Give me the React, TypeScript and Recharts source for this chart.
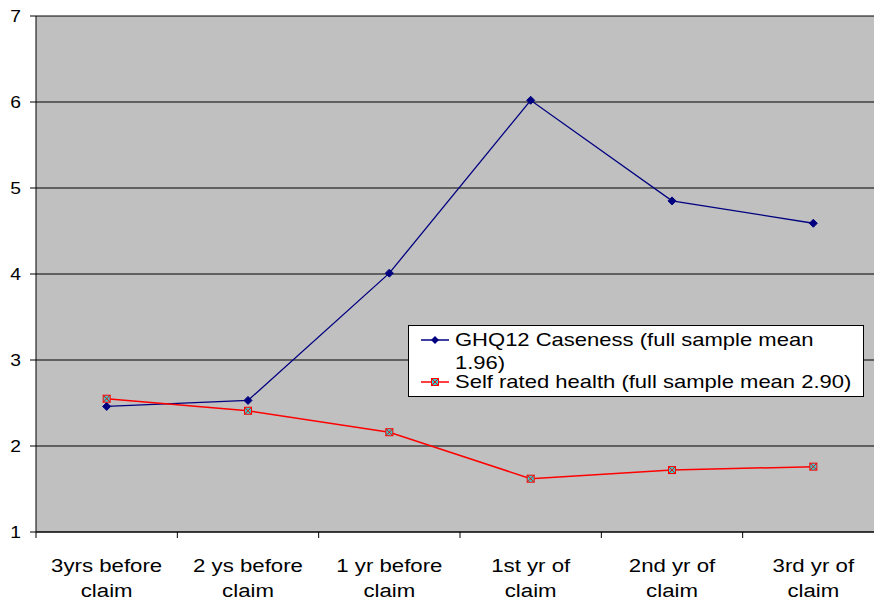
import React from 'react';
import { LineChart, Line, XAxis, YAxis, CartesianGrid, Legend } from 'recharts';

const categories = ['3yrs before|claim', '2 ys before|claim', '1 yr before|claim', '1st yr of|claim', '2nd yr of|claim', '3rd yr of|claim'];
const ghq12 = [2.46, 2.53, 4.01, 6.02, 4.85, 4.59];
const selfRated = [2.55, 2.41, 2.16, 1.62, 1.72, 1.76];
const yTicks = [1, 2, 3, 4, 5, 6, 7];
const legendGhq = ['GHQ12 Caseness (full sample mean', '1.96)'];
const legendSelf = 'Self rated health (full sample mean 2.90)';

const data = categories.map((c, i) => ({ cat: c, ghq: ghq12[i], self: selfRated[i] }));

const CHART_W = 886;
const CHART_H = 608;
const MARGIN = { top: 16, right: 2, left: 0, bottom: 0 };
const Y_W = 36;
const PLOT_W = CHART_W - MARGIN.right - MARGIN.left - Y_W;
const BAND = PLOT_W / categories.length;
const FONT = '"Liberation Sans", Arial, sans-serif';

const SText = ({ x, y, size, anchor, sx, children }: any) => (
  <text
    transform={`translate(${x},${y}) scale(${sx || 1.17},1)`}
    x={0}
    y={0}
    textAnchor={anchor || 'start'}
    fontSize={size}
    fontFamily={FONT}
    fill="#000"
  >
    {children}
  </text>
);

const XTick = (props: any) => {
  const { x, y, payload, index } = props;
  const [l1, l2] = String(payload.value).split('|');
  const left = x - BAND / 2;
  const right = x + BAND / 2;
  return (
    <g>
      <line x1={left} y1={y} x2={left} y2={y + 6} stroke="#000" />
      {index === categories.length - 1 && <line x1={right} y1={y} x2={right} y2={y + 6} stroke="#000" />}
      <SText x={x} y={y + 40} size={19} anchor="middle">{l1}</SText>
      <SText x={x} y={y + 65} size={19} anchor="middle">{l2}</SText>
    </g>
  );
};

const YTick = (props: any) => {
  const { x, y, payload } = props;
  return <SText x={x} y={y + 6} size={16.5} anchor="end">{payload.value}</SText>;
};

const Diamond = (props: any) => {
  const { cx, cy } = props;
  if (cx == null || cy == null) return null;
  const r = 4;
  return <polygon points={`${cx},${cy - r} ${cx + r},${cy} ${cx},${cy + r} ${cx - r},${cy}`} fill="#000080" stroke="#000080" />;
};

const SquareX = (props: any) => {
  const { cx, cy } = props;
  if (cx == null || cy == null) return null;
  const r = 3.5;
  return (
    <g>
      <rect x={cx - r} y={cy - r} width={2 * r} height={2 * r} fill="#33CCCC" stroke="#FF0000" strokeWidth={1} />
      <line x1={cx - r} y1={cy - r} x2={cx + r} y2={cy + r} stroke="#FF0000" strokeWidth={1} />
      <line x1={cx + r} y1={cy - r} x2={cx - r} y2={cy + r} stroke="#FF0000" strokeWidth={1} />
    </g>
  );
};

const LegendBox = () => (
  <svg width={456} height={72} style={{ display: 'block' }}>
    <rect x={0.5} y={0.5} width={455} height={71} fill="#fff" stroke="#000" />
    <line x1={13} y1={15} x2={41} y2={15} stroke="#000080" strokeWidth={1.5} />
    <polygon points="27,11 31,15 27,19 23,15" fill="#000080" />
    <SText x={47} y={21} size={18.5} sx={1.19}>{legendGhq[0]}</SText>
    <SText x={47} y={44} size={18.5} sx={1.19}>{legendGhq[1]}</SText>
    <line x1={13} y1={57} x2={41} y2={57} stroke="#FF0000" strokeWidth={1.5} />
    <rect x={23.5} y={53.5} width={7} height={7} fill="#33CCCC" stroke="#FF0000" />
    <line x1={23.5} y1={53.5} x2={30.5} y2={60.5} stroke="#FF0000" />
    <line x1={30.5} y1={53.5} x2={23.5} y2={60.5} stroke="#FF0000" />
    <SText x={47} y={63} size={18.5} sx={1.19}>{legendSelf}</SText>
  </svg>
);

export default function App() {
  return (
    <div style={{ position: 'absolute', left: 0, top: 0, width: 874, height: 608, overflow: 'hidden', background: '#fff', fontFamily: FONT }}>
      <LineChart width={CHART_W} height={CHART_H} data={data} margin={MARGIN}>
        <CartesianGrid horizontal vertical={false} stroke="#000" fill="#C0C0C0" fillOpacity={1} />
        <XAxis
          dataKey="cat"
          interval={0}
          padding={{ left: BAND / 2, right: BAND / 2 }}
          height={CHART_H - 532 - MARGIN.bottom}
          tick={<XTick />}
          tickLine={false}
          tickSize={0}
          tickMargin={0}
          axisLine={{ stroke: '#000' }}
        />
        <YAxis
          width={Y_W}
          domain={[1, 7]}
          ticks={yTicks}
          interval={0}
          tick={<YTick />}
          tickSize={6}
          tickMargin={9}
          tickLine={{ stroke: '#000' }}
          axisLine={{ stroke: '#000' }}
        />
        <Legend
          layout="horizontal"
          verticalAlign="middle"
          align="center"
          content={<LegendBox />}
          wrapperStyle={{ left: 408, top: 325, width: 456, height: 72 }}
        />
        <Line type="linear" dataKey="ghq" stroke="#000080" strokeWidth={1.3} dot={<Diamond />} activeDot={false} isAnimationActive={false} />
        <Line type="linear" dataKey="self" stroke="#FF0000" strokeWidth={1.5} dot={<SquareX />} activeDot={false} isAnimationActive={false} />
      </LineChart>
    </div>
  );
}
